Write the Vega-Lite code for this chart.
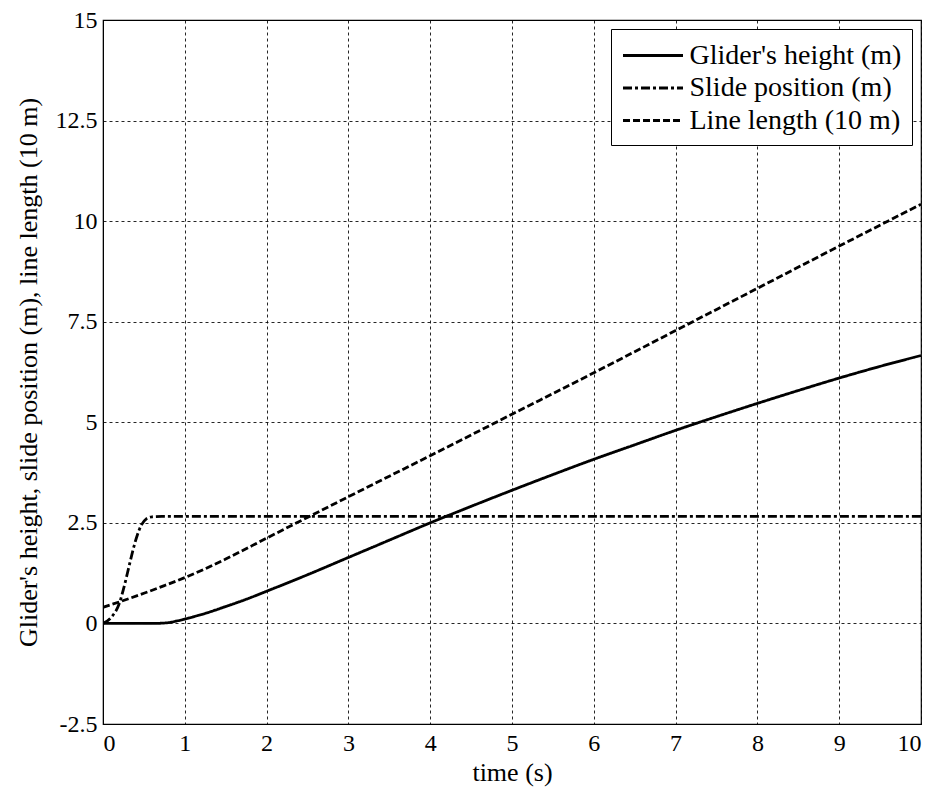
{
  "$schema": "https://vega.github.io/schema/vega-lite/v6.json",
  "autosize": "none",
  "width": 818,
  "height": 704,
  "padding": {"left": 103, "top": 20, "right": 16, "bottom": 68},
  "background": "white",
  "config": {
    "font": "Liberation Serif",
    "view": {"stroke": "black", "strokeWidth": 1.2},
    "axis": {
      "labelFont": "Liberation Serif",
      "titleFont": "Liberation Serif",
      "labelFontSize": 24,
      "titleFontSize": 26,
      "titleFontWeight": "normal",
      "labelColor": "black",
      "titleColor": "black",
      "domainColor": "black",
      "tickColor": "black",
      "grid": true,
      "gridColor": "black",
      "gridDash": [3, 3],
      "gridWidth": 1,
      "gridOpacity": 0.85,
      "tickSize": 0
    }
  },
  "data": {
    "values": [
      {"series": "Glider's height (m)", "t": 0, "v": 0},
      {"series": "Glider's height (m)", "t": 0.2, "v": 0},
      {"series": "Glider's height (m)", "t": 0.4, "v": 0},
      {"series": "Glider's height (m)", "t": 0.6, "v": 0},
      {"series": "Glider's height (m)", "t": 0.7, "v": 0.005},
      {"series": "Glider's height (m)", "t": 0.8, "v": 0.02},
      {"series": "Glider's height (m)", "t": 0.9, "v": 0.06},
      {"series": "Glider's height (m)", "t": 1.0, "v": 0.11},
      {"series": "Glider's height (m)", "t": 1.25, "v": 0.25},
      {"series": "Glider's height (m)", "t": 1.5, "v": 0.42},
      {"series": "Glider's height (m)", "t": 1.75, "v": 0.6},
      {"series": "Glider's height (m)", "t": 2, "v": 0.8},
      {"series": "Glider's height (m)", "t": 2.5, "v": 1.21},
      {"series": "Glider's height (m)", "t": 3, "v": 1.64},
      {"series": "Glider's height (m)", "t": 3.5, "v": 2.07},
      {"series": "Glider's height (m)", "t": 4, "v": 2.5},
      {"series": "Glider's height (m)", "t": 4.5, "v": 2.91},
      {"series": "Glider's height (m)", "t": 5, "v": 3.31},
      {"series": "Glider's height (m)", "t": 5.5, "v": 3.7},
      {"series": "Glider's height (m)", "t": 6, "v": 4.08},
      {"series": "Glider's height (m)", "t": 6.5, "v": 4.44},
      {"series": "Glider's height (m)", "t": 7, "v": 4.8},
      {"series": "Glider's height (m)", "t": 7.5, "v": 5.14},
      {"series": "Glider's height (m)", "t": 8, "v": 5.47},
      {"series": "Glider's height (m)", "t": 8.5, "v": 5.79},
      {"series": "Glider's height (m)", "t": 9, "v": 6.1},
      {"series": "Glider's height (m)", "t": 9.5, "v": 6.39},
      {"series": "Glider's height (m)", "t": 10, "v": 6.66},
      {"series": "Slide position (m)", "t": 0, "v": 0},
      {"series": "Slide position (m)", "t": 0.1, "v": 0.15},
      {"series": "Slide position (m)", "t": 0.2, "v": 0.5},
      {"series": "Slide position (m)", "t": 0.25, "v": 0.85},
      {"series": "Slide position (m)", "t": 0.33, "v": 1.52},
      {"series": "Slide position (m)", "t": 0.37, "v": 1.85},
      {"series": "Slide position (m)", "t": 0.42, "v": 2.2},
      {"series": "Slide position (m)", "t": 0.47, "v": 2.45},
      {"series": "Slide position (m)", "t": 0.53, "v": 2.6},
      {"series": "Slide position (m)", "t": 0.6, "v": 2.65},
      {"series": "Slide position (m)", "t": 0.72, "v": 2.66},
      {"series": "Slide position (m)", "t": 10, "v": 2.66},
      {"series": "Line length (10 m)", "t": 0, "v": 0.4},
      {"series": "Line length (10 m)", "t": 0.25, "v": 0.57},
      {"series": "Line length (10 m)", "t": 0.5, "v": 0.75},
      {"series": "Line length (10 m)", "t": 0.75, "v": 0.94},
      {"series": "Line length (10 m)", "t": 1, "v": 1.14},
      {"series": "Line length (10 m)", "t": 1.25, "v": 1.36},
      {"series": "Line length (10 m)", "t": 1.5, "v": 1.6},
      {"series": "Line length (10 m)", "t": 2, "v": 2.12},
      {"series": "Line length (10 m)", "t": 3, "v": 3.15},
      {"series": "Line length (10 m)", "t": 4, "v": 4.17},
      {"series": "Line length (10 m)", "t": 5, "v": 5.2},
      {"series": "Line length (10 m)", "t": 6, "v": 6.23},
      {"series": "Line length (10 m)", "t": 7, "v": 7.28},
      {"series": "Line length (10 m)", "t": 8, "v": 8.33},
      {"series": "Line length (10 m)", "t": 9, "v": 9.38},
      {"series": "Line length (10 m)", "t": 10, "v": 10.42}
    ]
  },
  "mark": {"type": "line", "color": "black", "strokeWidth": 2.8, "interpolate": "monotone", "clip": true},
  "encoding": {
    "x": {
      "field": "t", "type": "quantitative", "title": "time (s)",
      "scale": {"domain": [0, 10], "nice": false, "zero": false},
      "axis": {"values": [0,1,2,3,4,5,6,7,8,9,10], "labelPadding": 7, "titlePadding": 4}
    },
    "y": {
      "field": "v", "type": "quantitative",
      "title": "Glider's height, slide position (m), line length (10 m)",
      "scale": {"domain": [-2.5, 15], "nice": false, "zero": false},
      "axis": {"values": [-2.5, 0, 2.5, 5, 7.5, 10, 12.5, 15], "labelExpr": "datum.value", "labelPadding": 6, "titlePadding": 14}
    },
    "strokeDash": {
      "field": "series", "type": "nominal",
      "scale": {
        "domain": ["Glider's height (m)", "Slide position (m)", "Line length (10 m)"],
        "range": [[1, 0], [9, 3, 3, 3], [7, 3]]
      },
      "legend": {
        "title": null,
        "orient": "top-right",
        "offset": 9,
        "fillColor": "white",
        "strokeColor": "black",
        "padding": 10,
        "labelFont": "Liberation Serif",
        "labelFontSize": 28,
        "labelColor": "black",
        "labelLimit": 400,
        "labelOffset": 20,
        "symbolType": "M-2,0H2",
        "symbolOffset": 15.5,
        "symbolStrokeColor": "black",
        "symbolStrokeWidth": 2.8,
        "symbolSize": 900,
        "rowPadding": 1.5
      }
    }
  }
}
